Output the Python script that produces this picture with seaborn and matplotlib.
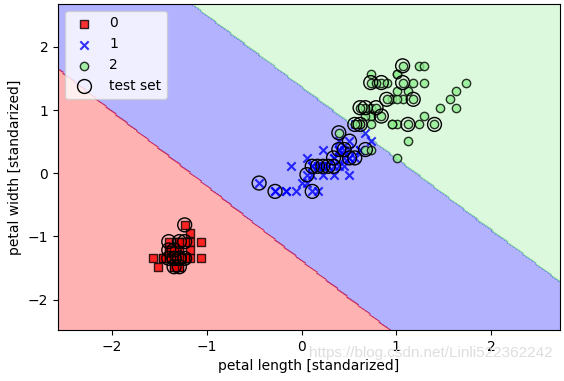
import numpy as np
import matplotlib
matplotlib.use('Agg')
import matplotlib.pyplot as plt
from matplotlib.colors import ListedColormap
import seaborn as sns

# iris petal measurements (cm), per class
setosa_len = [1.4, 1.4, 1.3, 1.5, 1.4, 1.7, 1.4, 1.5, 1.4, 1.5, 1.5, 1.6, 1.4, 1.1, 1.2, 1.5, 1.3,
              1.4, 1.7, 1.5, 1.7, 1.5, 1.0, 1.7, 1.9, 1.6, 1.6, 1.5, 1.4, 1.6, 1.6, 1.5, 1.5, 1.4,
              1.5, 1.2, 1.3, 1.4, 1.3, 1.5, 1.3, 1.3, 1.3, 1.6, 1.9, 1.4, 1.6, 1.4, 1.5, 1.4]
setosa_wid = [0.2, 0.2, 0.2, 0.2, 0.2, 0.4, 0.3, 0.2, 0.2, 0.1, 0.2, 0.2, 0.1, 0.1, 0.2, 0.4, 0.4,
              0.3, 0.3, 0.3, 0.2, 0.4, 0.2, 0.5, 0.2, 0.2, 0.4, 0.2, 0.2, 0.2, 0.2, 0.4, 0.1, 0.2,
              0.2, 0.2, 0.2, 0.1, 0.2, 0.2, 0.3, 0.3, 0.2, 0.6, 0.4, 0.3, 0.2, 0.2, 0.2, 0.2]
versicolor_len = [4.7, 4.5, 4.9, 4.0, 4.6, 4.5, 4.7, 3.3, 4.6, 3.9, 3.5, 4.2, 4.0, 4.7, 3.6, 4.4, 4.5,
                  4.1, 4.5, 3.9, 4.8, 4.0, 4.9, 4.7, 4.3, 4.4, 4.8, 5.0, 4.5, 3.5, 3.8, 3.7, 3.9, 5.1,
                  4.5, 4.5, 4.7, 4.4, 4.1, 4.0, 4.4, 4.6, 4.0, 3.3, 4.2, 4.2, 4.2, 4.3, 3.0, 4.1]
versicolor_wid = [1.4, 1.5, 1.5, 1.3, 1.5, 1.3, 1.6, 1.0, 1.3, 1.4, 1.0, 1.5, 1.0, 1.4, 1.3, 1.4, 1.5,
                  1.0, 1.5, 1.1, 1.8, 1.3, 1.5, 1.2, 1.3, 1.4, 1.4, 1.7, 1.5, 1.0, 1.1, 1.0, 1.2, 1.6,
                  1.5, 1.6, 1.5, 1.3, 1.3, 1.3, 1.2, 1.4, 1.2, 1.0, 1.3, 1.2, 1.3, 1.3, 1.1, 1.3]
virginica_len = [6.0, 5.1, 5.9, 5.6, 5.8, 6.6, 4.5, 6.3, 5.8, 6.1, 5.1, 5.3, 5.5, 5.0, 5.1, 5.3, 5.5,
                 6.7, 6.9, 5.0, 5.7, 4.9, 6.7, 4.9, 5.7, 6.0, 4.8, 4.9, 5.6, 5.8, 6.1, 6.4, 5.6, 5.1,
                 5.6, 6.1, 5.6, 5.5, 4.8, 5.4, 5.6, 5.1, 5.1, 5.9, 5.7, 5.2, 5.0, 5.2, 5.4, 5.1]
virginica_wid = [2.5, 1.9, 2.1, 1.8, 2.2, 2.1, 1.7, 1.8, 1.8, 2.5, 2.0, 1.9, 2.1, 2.0, 2.4, 2.3, 1.8,
                 2.2, 2.3, 1.5, 2.3, 2.0, 2.0, 1.8, 2.1, 1.8, 1.8, 1.8, 2.1, 1.6, 1.9, 2.0, 2.2, 1.5,
                 1.4, 2.3, 2.4, 1.8, 1.8, 2.1, 2.4, 2.3, 1.9, 2.3, 2.5, 2.3, 1.9, 2.0, 2.3, 1.8]

# samples circled as test set
test_len = [1.6, 1.3, 1.5, 1.6, 1.4, 1.5, 1.4, 1.3, 1.5, 1.4, 1.4, 1.5, 1.3, 1.6, 1.5,
            3.0, 3.3, 4.0, 4.0, 4.2, 4.4, 4.7, 4.5, 4.7, 4.8, 4.1, 4.6, 4.3, 3.9, 4.4,
            5.7, 5.1, 5.3, 5.7, 5.4, 5.9, 4.9, 5.0, 5.2, 5.3, 4.8, 4.9, 5.8, 6.3, 4.5, 5.0]
test_wid = [0.6, 0.4, 0.4, 0.4, 0.2, 0.2, 0.3, 0.2, 0.2, 0.2, 0.1, 0.1, 0.3, 0.2, 0.2,
            1.1, 1.0, 1.0, 1.3, 1.3, 1.4, 1.6, 1.5, 1.4, 1.4, 1.3, 1.5, 1.3, 1.2, 1.3,
            2.5, 2.3, 2.3, 2.3, 2.1, 2.1, 2.0, 2.0, 2.0, 1.9, 1.8, 1.8, 1.8, 1.8, 1.7, 1.5]

# scaler (mean, std) and linear classifier fitted on the standardized features
len_mean, len_std = 3.80, 1.782
wid_mean, wid_std = 1.217, 0.755
coef = np.array([[-1.18, -1.0], [0.0, 0.0], [1.13, 1.0]])
intercept = np.array([-1.383, 0.0, -1.372])

labels = ['0', '1', '2']
colors = ['red', 'blue', 'lightgreen']
markers = ['s', 'x', 'o']


def standardize(length, width):
    return ((np.array(length) - len_mean) / len_std,
            (np.array(width) - wid_mean) / wid_std)


classes = [standardize(setosa_len, setosa_wid),
           standardize(versicolor_len, versicolor_wid),
           standardize(virginica_len, virginica_wid)]
test_x, test_y = standardize(test_len, test_wid)

all_x = np.concatenate([c[0] for c in classes])
all_y = np.concatenate([c[1] for c in classes])

fig = plt.figure(figsize=(5.64, 3.81), dpi=100)
ax = fig.add_axes([0.103, 0.134, 0.890, 0.856])

# decision regions
res = 0.02
xx1, xx2 = np.meshgrid(np.arange(all_x.min() - 1, all_x.max() + 1, res),
                       np.arange(all_y.min() - 1, all_y.max() + 1, res))
grid = np.c_[xx1.ravel(), xx2.ravel()]
Z = np.argmax(grid @ coef.T + intercept, axis=1).reshape(xx1.shape)
ax.contourf(xx1, xx2, Z, alpha=0.3, cmap=ListedColormap(colors))
ax.set_xlim(xx1.min(), xx1.max())
ax.set_ylim(xx2.min(), xx2.max())

for idx, (xs, ys) in enumerate(classes):
    if markers[idx] == 'x':
        sns.scatterplot(x=xs, y=ys, color=colors[idx], marker='x', s=36, linewidth=1.5,
                        alpha=0.8, label=labels[idx], ax=ax)
    else:
        sns.scatterplot(x=xs, y=ys, color=colors[idx], marker=markers[idx], s=36,
                        edgecolor='black', linewidth=1, alpha=0.8, label=labels[idx], ax=ax)

ax.scatter(test_x, test_y, facecolors='none', edgecolors='black', alpha=1.0,
           linewidths=1, marker='o', s=100, label='test set')

ax.set_xlabel('petal length [standarized]')
ax.set_ylabel('petal width [standarized]')
ax.legend(loc='upper left')

fig.text(0.979, 0.073, 'https://blog.csdn.net/Linli522362242', ha='right', va='center',
         color='#dedede', fontsize=11, family='Liberation Sans')

fig.savefig('out.png', dpi=100)
